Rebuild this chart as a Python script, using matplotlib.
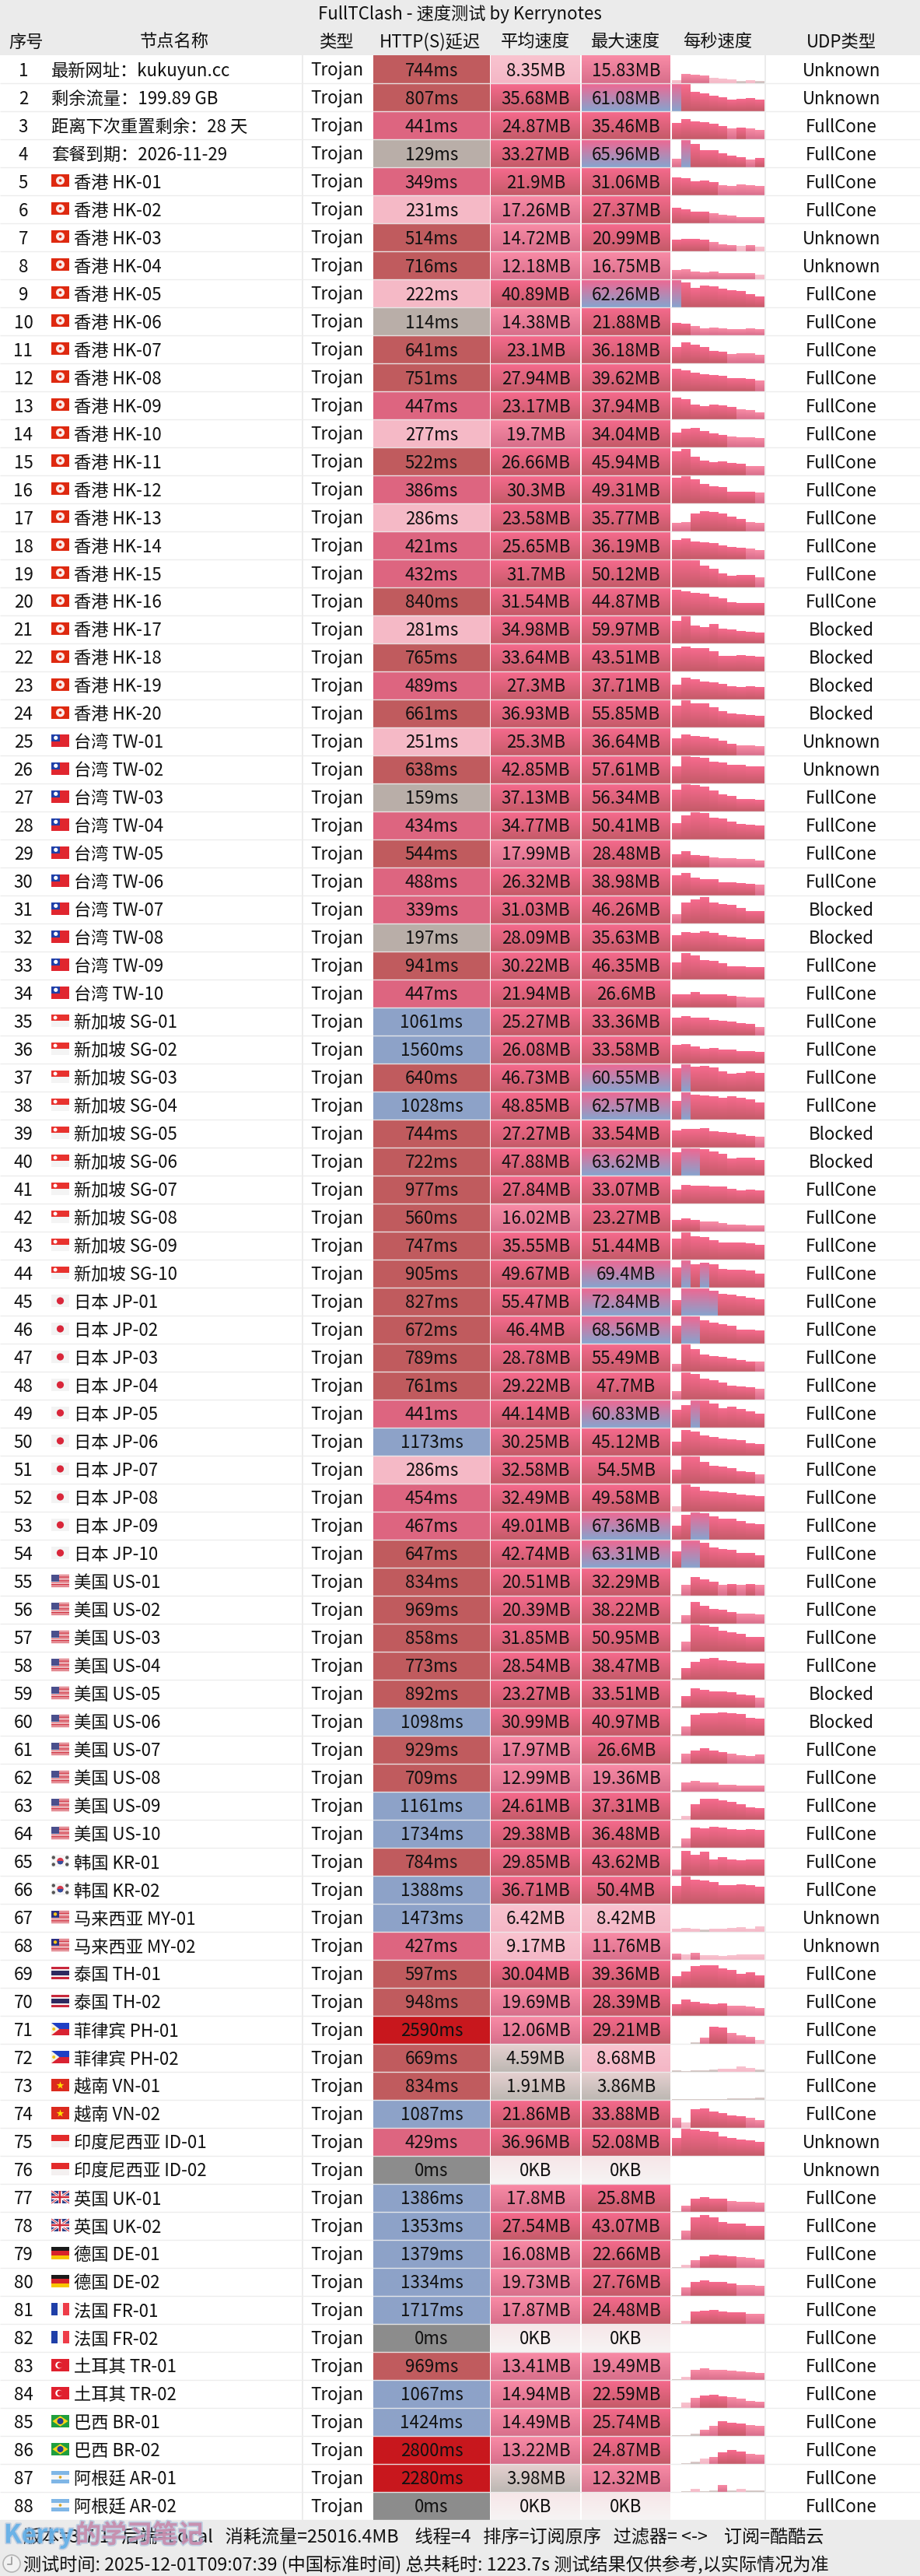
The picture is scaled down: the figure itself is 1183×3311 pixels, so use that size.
import numpy as np
import matplotlib
matplotlib.use("Agg")
import matplotlib.pyplot as plt
import matplotlib.patheffects as pe
from matplotlib.colors import to_rgb
from matplotlib.patches import Rectangle, Circle, Polygon

plt.rcParams["font.family"] = ["Noto Sans CJK SC", "DejaVu Sans"]

# =========================
# Data
# =========================
title = "FullTClash - 速度测试 by Kerrynotes"
headers = ["序号", "节点名称", "类型", "HTTP(S)延迟", "平均速度", "最大速度", "每秒速度", "UDP类型"]
footer_1 = "版本=3.7.1   后端=Local   消耗流量=25016.4MB    线程=4   排序=订阅原序   过滤器= <->    订阅=酷酷云"
footer_2 = "测试时间: 2025-12-01T09:07:39 (中国标准时间) 总共耗时: 1223.7s 测试结果仅供参考,以实际情况为准"

node_names = [
    "最新网址：kukuyun.cc", "剩余流量：199.89 GB", "距离下次重置剩余：28 天", "套餐到期：2026-11-29",
    "香港 HK-01", "香港 HK-02", "香港 HK-03", "香港 HK-04", "香港 HK-05", "香港 HK-06", "香港 HK-07",
    "香港 HK-08", "香港 HK-09", "香港 HK-10", "香港 HK-11", "香港 HK-12", "香港 HK-13", "香港 HK-14",
    "香港 HK-15", "香港 HK-16", "香港 HK-17", "香港 HK-18", "香港 HK-19", "香港 HK-20",
    "台湾 TW-01", "台湾 TW-02", "台湾 TW-03", "台湾 TW-04", "台湾 TW-05", "台湾 TW-06", "台湾 TW-07",
    "台湾 TW-08", "台湾 TW-09", "台湾 TW-10",
    "新加坡 SG-01", "新加坡 SG-02", "新加坡 SG-03", "新加坡 SG-04", "新加坡 SG-05", "新加坡 SG-06",
    "新加坡 SG-07", "新加坡 SG-08", "新加坡 SG-09", "新加坡 SG-10",
    "日本 JP-01", "日本 JP-02", "日本 JP-03", "日本 JP-04", "日本 JP-05", "日本 JP-06", "日本 JP-07",
    "日本 JP-08", "日本 JP-09", "日本 JP-10",
    "美国 US-01", "美国 US-02", "美国 US-03", "美国 US-04", "美国 US-05", "美国 US-06", "美国 US-07",
    "美国 US-08", "美国 US-09", "美国 US-10",
    "韩国 KR-01", "韩国 KR-02", "马来西亚 MY-01", "马来西亚 MY-02", "泰国 TH-01", "泰国 TH-02",
    "菲律宾 PH-01", "菲律宾 PH-02", "越南 VN-01", "越南 VN-02", "印度尼西亚 ID-01", "印度尼西亚 ID-02",
    "英国 UK-01", "英国 UK-02", "德国 DE-01", "德国 DE-02", "法国 FR-01", "法国 FR-02",
    "土耳其 TR-01", "土耳其 TR-02", "巴西 BR-01", "巴西 BR-02", "阿根廷 AR-01", "阿根廷 AR-02",
]

http_delay = [
    744, 807, 441, 129, 349, 231, 514, 716, 222, 114, 641, 751, 447, 277, 522, 386, 286, 421, 432, 840, 281, 765,
    489, 661, 251, 638, 159, 434, 544, 488, 339, 197, 941, 447, 1061, 1560, 640, 1028, 744, 722, 977, 560, 747, 905,
    827, 672, 789, 761, 441, 1173, 286, 454, 467, 647, 834, 969, 858, 773, 892, 1098, 929, 709, 1161, 1734, 784, 1388,
    1473, 427, 597, 948, 2590, 669, 834, 1087, 429, 0, 1386, 1353, 1379, 1334, 1717, 0, 969, 1067, 1424, 2800, 2280, 0,
]

avg_speed = [
    8.35, 35.68, 24.87, 33.27, 21.9, 17.26, 14.72, 12.18, 40.89, 14.38, 23.1, 27.94, 23.17, 19.7, 26.66, 30.3, 23.58,
    25.65, 31.7, 31.54, 34.98, 33.64, 27.3, 36.93, 25.3, 42.85, 37.13, 34.77, 17.99, 26.32, 31.03, 28.09, 30.22, 21.94,
    25.27, 26.08, 46.73, 48.85, 27.27, 47.88, 27.84, 16.02, 35.55, 49.67, 55.47, 46.4, 28.78, 29.22, 44.14, 30.25,
    32.58, 32.49, 49.01, 42.74, 20.51, 20.39, 31.85, 28.54, 23.27, 30.99, 17.97, 12.99, 24.61, 29.38, 29.85, 36.71,
    6.42, 9.17, 30.04, 19.69, 12.06, 4.59, 1.91, 21.86, 36.96, 0, 17.8, 27.54, 16.08, 19.73, 17.87, 0, 13.41, 14.94,
    14.49, 13.22, 3.98, 0,
]

max_speed = [
    15.83, 61.08, 35.46, 65.96, 31.06, 27.37, 20.99, 16.75, 62.26, 21.88, 36.18, 39.62, 37.94, 34.04, 45.94, 49.31,
    35.77, 36.19, 50.12, 44.87, 59.97, 43.51, 37.71, 55.85, 36.64, 57.61, 56.34, 50.41, 28.48, 38.98, 46.26, 35.63,
    46.35, 26.6, 33.36, 33.58, 60.55, 62.57, 33.54, 63.62, 33.07, 23.27, 51.44, 69.4, 72.84, 68.56, 55.49, 47.7, 60.83,
    45.12, 54.5, 49.58, 67.36, 63.31, 32.29, 38.22, 50.95, 38.47, 33.51, 40.97, 26.6, 19.36, 37.31, 36.48, 43.62, 50.4,
    8.42, 11.76, 39.36, 28.39, 29.21, 8.68, 3.86, 33.88, 52.08, 0, 25.8, 43.07, 22.66, 27.76, 24.48, 0, 19.49, 22.59,
    25.74, 24.87, 12.32, 0,
]

udp_type = (
    ["Unknown"] * 2 + ["FullCone"] * 4 + ["Unknown"] * 2 + ["FullCone"] * 12 + ["Blocked"] * 4 + ["Unknown"] * 2
    + ["FullCone"] * 4 + ["Blocked"] * 2 + ["FullCone"] * 6 + ["Blocked"] * 2 + ["FullCone"] * 18 + ["Blocked"] * 2
    + ["FullCone"] * 6 + ["Unknown"] * 2 + ["FullCone"] * 6 + ["Unknown"] * 2 + ["FullCone"] * 12
)

# per second speed in MB, ten samples per node
per_second = [
    [5.5, 15.83, 14.5, 13.5, 9.5, 8, 6, 4, 5.5, 4],
    [61.08, 57.7, 41.9, 37.9, 33.9, 30.5, 24.9, 27, 28, 24.3],
    [28.7, 35.46, 31.5, 30, 27, 22.7, 18.5, 20.5, 18.5, 15.7],
    [19, 65.96, 54.4, 40, 39, 32, 26, 22.6, 17, 20.2],
    [31.06, 29.6, 24, 26, 23, 17, 16, 18.5, 17, 15.5],
    [27.37, 24, 20.3, 20.3, 17.6, 15, 13, 10.6, 11, 10.6],
    [20.2, 20.99, 20.9, 20.1, 15.7, 12, 10.2, 8.8, 10, 7.4],
    [16, 16.75, 13, 12, 13, 11, 10.2, 10, 10, 7.9],
    [62.26, 54, 42, 47.8, 45.5, 40, 38, 35, 28, 23],
    [21.88, 20.1, 15.3, 11.6, 13, 11.6, 11, 10.2, 11.6, 10.2],
    [27.8, 36.18, 32.4, 28.7, 21.3, 20, 16.2, 17, 17.6, 14.4],
    [39.62, 36.6, 32, 29.6, 28, 26.9, 23, 22.7, 21.3, 18.5],
    [37.94, 36, 25.5, 23, 26, 24.5, 22, 18, 15.3, 11.6],
    [25.5, 32.4, 34.04, 29, 25, 21.8, 19, 18, 17.6, 15.7],
    [42, 45.94, 33, 26, 23, 24.5, 22, 20.4, 16, 15.3],
    [45.8, 49.31, 43, 34, 29.6, 27.8, 20, 20.4, 20.1, 19],
    [14.8, 15.7, 31.5, 35.77, 34.3, 31, 26, 21.8, 16.2, 14.8],
    [33.8, 36.19, 30.6, 29.6, 27.8, 24.5, 21.8, 20.4, 18.5, 16.2],
    [49, 50.12, 48, 38.5, 33, 24.6, 20, 20.9, 21.8, 18],
    [44.87, 41.7, 40, 38, 33, 30, 23.6, 21.3, 22.2, 21.3],
    [48, 59.97, 37, 33.9, 41, 31.6, 29, 25.5, 24.4, 22.8],
    [41, 43.51, 40.7, 41, 35.6, 26.9, 26.9, 29, 27, 25.5],
    [25.5, 37.71, 35.6, 31.5, 29.6, 26.9, 23, 22, 23, 21.3],
    [43.4, 55.85, 48, 48, 38.8, 31.5, 27, 25, 24, 22.7],
    [30, 36.64, 34, 32, 29.6, 26, 20.4, 18, 16.7, 15.3],
    [35, 57.61, 54, 52, 44.8, 42, 38, 38, 35, 35],
    [43.8, 56.34, 53, 50, 41, 34, 29.8, 25, 24, 22],
    [29, 43.4, 50.41, 46.7, 39, 37, 31, 27.5, 26.6, 24.7],
    [23, 28.48, 21.8, 20, 17.6, 16, 15.3, 14.8, 14, 12],
    [35, 38.98, 30.6, 28.7, 27.8, 23.6, 22.7, 22, 20, 19],
    [15.7, 37, 42.6, 46.26, 37.5, 34, 32, 26.9, 21.3, 21.3],
    [28.7, 34.7, 32.9, 35.63, 32, 27.8, 26, 24, 22, 21.3],
    [30, 46.35, 41.7, 34.7, 33.3, 27.8, 23, 23, 21.8, 21.8],
    [23, 23.6, 26.6, 23.6, 23.6, 23.6, 20.8, 19, 17.6, 16.7],
    [31.5, 33.36, 30.6, 30.6, 27.3, 25.5, 24.5, 21.8, 20, 14.4],
    [32, 33.58, 30, 25.5, 26.4, 25, 24, 21.3, 22.2, 20.4],
    [48.8, 60.55, 53, 54.4, 51.6, 43, 37.6, 40, 42.6, 39],
    [41.7, 62.57, 55, 52.7, 51.5, 48.6, 51, 48, 44.6, 38],
    [30, 32.4, 32.4, 33.54, 29, 27.3, 25.5, 23.6, 20.8, 18.5],
    [53, 63.62, 60.7, 59, 54, 49, 37.7, 40, 38.9, 34.8],
    [24.5, 33.07, 31.6, 30.6, 29.6, 29.6, 26, 23, 24, 23],
    [20.4, 23.27, 20.4, 18, 17, 14.8, 12.5, 12, 11, 10],
    [38, 51.44, 42.8, 41.4, 35.7, 31, 31, 30.5, 29.5, 27],
    [50, 69.4, 57.8, 60, 56, 45.6, 44, 43.7, 42.4, 34],
    [39.8, 72.84, 70, 70, 63.4, 56.6, 54, 50, 46.5, 41.8],
    [43.8, 68.56, 66, 55.9, 51.4, 47, 42, 34, 33.6, 31.8],
    [15.4, 55.49, 43.7, 33.4, 30.8, 29, 24.7, 21.6, 20, 18.5],
    [14.8, 47.7, 45.8, 37.5, 34.7, 30.5, 25, 23, 21.3, 19],
    [38, 47.9, 60.83, 58, 52, 41.7, 44, 40.5, 35, 29.8],
    [25, 45.12, 42, 36, 33, 30, 28, 26.4, 21.8, 20.4],
    [26, 54.5, 51.5, 42, 34, 32, 28.8, 24, 21.7, 17.7],
    [9.3, 49.58, 44.4, 37, 35.6, 33.8, 32, 30, 28, 26.4],
    [33, 59.5, 67.36, 63.6, 55, 48.7, 50, 43.7, 39, 36.8],
    [35.7, 63.31, 62, 56, 45.7, 42, 40, 32, 32, 28],
    [1.9, 19, 32.29, 27.8, 24.5, 18.5, 20.4, 19, 20.8, 19],
    [1.4, 13.9, 38.22, 31, 26, 24, 20.4, 18, 16.7, 15.7],
    [1.9, 17, 50.95, 48, 44, 38, 34, 32.5, 26, 26],
    [1.9, 20.4, 31, 36.6, 38.47, 34, 33, 30, 29, 27.8],
    [1.9, 20.4, 33.51, 31, 27.8, 27.8, 26.4, 23.6, 21.8, 17.6],
    [1.4, 15.7, 37, 39.8, 38.9, 40.97, 39.8, 38, 30.6, 29.6],
    [1.9, 17.6, 23.6, 26.6, 23.6, 20.4, 17, 14.8, 13.4, 15.7],
    [1.9, 15.3, 19.36, 15.7, 15.3, 12.5, 12, 11, 11, 11],
    [0.9, 6.9, 27.3, 37.31, 36.6, 34.7, 30.6, 27.3, 22, 20.4],
    [1.4, 16.2, 35.7, 34.7, 36.48, 35.7, 32.4, 30.6, 33.3, 30.6],
    [11, 43.62, 36.6, 41.7, 27.8, 32, 27.8, 26.9, 27.8, 27.8],
    [31.8, 50.4, 43, 41, 38, 33.6, 33.6, 34.5, 33.6, 30.8],
    [5.2, 6.5, 5.1, 3.5, 5.5, 5.5, 6.5, 7.4, 5.5, 8.42],
    [10.3, 9.3, 11.76, 7.9, 8.3, 6, 7.4, 8.8, 8.8, 8.8],
    [20, 27.8, 38.4, 39.36, 38.9, 34, 31, 24, 26.9, 22],
    [20, 28.39, 24.5, 21.8, 20.4, 22, 18, 18, 15.3, 13.4],
    [0, 0, 2.3, 10.2, 29.21, 28.2, 19.4, 14.8, 11.6, 6.5],
    [1.9, 0.9, 2.3, 2.3, 3.7, 5.5, 5.5, 8.68, 5.6, 2.8],
    [0.4, 0.5, 0.6, 0.6, 0.7, 0.8, 2, 2.2, 2.5, 3.86],
    [17.6, 9.3, 32.4, 33.88, 29, 26, 22, 20.4, 17.6, 13.4],
    [33, 52.08, 48.7, 45, 44.8, 36, 32, 29.4, 28.4, 25],
    [0, 0, 0, 0, 0, 0, 0, 0, 0, 0],
    [0.9, 11, 23, 25.8, 23.6, 22.7, 19.4, 17.6, 16.7, 15.7],
    [0.9, 15.3, 38.9, 43.07, 40, 31, 29, 28, 24, 24],
    [0.9, 5.5, 13.4, 20, 22.66, 22.2, 20.8, 19, 17.6, 14.8],
    [0.9, 13.9, 25, 27.76, 25, 24, 21.8, 19.4, 19, 18],
    [0.4, 5.5, 22, 23, 24.48, 21.3, 20.8, 20, 17.6, 17.6],
    [0, 0, 0, 0, 0, 0, 0, 0, 0, 0],
    [0.9, 5.5, 16.7, 19.49, 18, 16.7, 15.3, 14.8, 13.4, 11.6],
    [0.4, 9.3, 17.6, 21.8, 22.59, 20, 19, 16.2, 12.5, 10],
    [0.2, 0.9, 2.8, 10, 18, 25.74, 23.6, 21.8, 19, 16.7],
    [0, 0.9, 2.8, 9.3, 11.6, 20.4, 24.87, 22.2, 17.6, 15.7],
    [0, 0.9, 5.5, 0.8, 1.9, 12.32, 1.9, 5.5, 1.4, 1.4],
    [0, 0, 0, 0, 0, 0, 0, 0, 0, 0],
]

# =========================
# Layout (pixels)
# =========================
W, H = 1183, 3312
ROW0, ROWH = 72, 36
FOOT_TOP = 3240
FS = 22.3 * 0.72
GREY = "#ebebeb"
LINE = "#ececec"
N_SEC = 10
SPARK_FULL = 50.0

header_x = [34, 224, 433, 553, 688, 804, 923, 1082]
SEQ_X, NAME_X, FLAG_X, TYPE_X, UDP_X = 30, 66, 66, 433, 1082
HTTP_COL = (480, 630)
AVG_COL = (631.5, 746.5)
MAX_COL = (748, 862)
SPARK_COL = (864, 983)


# =========================
# Helpers
# =========================
def http_color(ms):
    if ms == 0:
        return "#8c8c8c"
    if ms < 200:
        return "#b9aea8"
    if ms < 300:
        return "#f5b9c6"
    if ms < 500:
        return "#dd6580"
    if ms < 1000:
        return "#c05b5e"
    if ms < 2000:
        return "#8da2c8"
    return "#c8171d"


def speed_colors(v):
    if v <= 0:
        return "#f7e6e8", "#f6f4f4"
    if v < 5:
        return "#e6d0d0", "#bdb8b3"
    if v < 10:
        return "#f9c3cf", "#f4b7c6"
    if v < 20:
        return "#f98ba6", "#d86f8b"
    if v < 60:
        return "#f66a8d", "#c55b69"
    return "#ee6893", "#88a3cd"


def gradient(ax, x0, x1, y0, y1, top, bottom):
    img = np.linspace(to_rgb(top), to_rgb(bottom), 24)[:, None, :]
    ax.imshow(img, extent=(x0, x1, y1, y0), aspect="auto", interpolation="bilinear", zorder=2)


def label(ax, x, y, s, ha="center", size=FS, **kw):
    ax.text(x, y, s, ha=ha, va="center", fontsize=size, color="#111111", zorder=5, **kw)


def speed_label(v):
    return f"{v:g}MB" if v > 0 else "0KB"


def draw_flag(ax, code, x, y, w=23, h=16):
    def rect(rx, ry, rw, rh, c):
        ax.add_patch(Rectangle((x + rx * w, y + ry * h), rw * w, rh * h, fc=c, ec="none", zorder=3))

    def dot(cx, cy, r, c):
        ax.add_patch(Circle((x + cx * w, y + cy * h), r, fc=c, ec="none", zorder=4))

    def poly(pts, c):
        ax.add_patch(Polygon([(x + a * w, y + b * h) for a, b in pts], fc=c, ec="none", zorder=4))

    def hstripes(cols):
        for k, c in enumerate(cols):
            rect(0, k / len(cols), 1, 1 / len(cols), c)

    if code == "HK":
        rect(0, 0, 1, 1, "#de2910")
        dot(0.5, 0.5, 5.5, "#fbe9e6")
        dot(0.5, 0.5, 1.8, "#de2910")
    elif code == "TW":
        rect(0, 0, 1, 1, "#e0262f")
        rect(0, 0, 0.5, 0.55, "#1f3fa8")
        dot(0.25, 0.27, 2.6, "white")
    elif code == "SG":
        hstripes(["#e8322e", "#f4f4f4"])
        dot(0.22, 0.25, 2.4, "white")
    elif code == "JP":
        rect(0, 0, 1, 1, "#f3f3f3")
        dot(0.5, 0.5, 4.6, "#d9263a")
    elif code in ("US", "MY"):
        hstripes(["#d5404e", "#f6f0f0"] * 6 + ["#d5404e"])
        rect(0, 0, 0.45, 0.54, "#4a4f8c" if code == "US" else "#2b2f7f")
        if code == "MY":
            dot(0.22, 0.27, 2.2, "#f5c518")
    elif code == "KR":
        rect(0, 0, 1, 1, "#f5f5f5")
        dot(0.5, 0.5, 4.2, "#d53a4c")
        poly([(0.33, 0.5), (0.67, 0.5), (0.62, 0.72), (0.5, 0.78), (0.38, 0.72)], "#2f4f9f")
        for cx, cy in [(0.12, 0.22), (0.88, 0.22), (0.12, 0.78), (0.88, 0.78)]:
            dot(cx, cy, 2.2, "#555555")
    elif code == "TH":
        for y0, hh, c in [(0, 1 / 6, "#c8283c"), (1 / 6, 1 / 6, "#f5f0f0"), (1 / 3, 1 / 3, "#2d2a5f"),
                          (2 / 3, 1 / 6, "#f5f0f0"), (5 / 6, 1 / 6, "#c8283c")]:
            rect(0, y0, 1, hh, c)
    elif code == "PH":
        hstripes(["#1f3fc4", "#d92232"])
        poly([(0, 0), (0.45, 0.5), (0, 1)], "#f7f3e6")
        dot(0.14, 0.5, 2, "#f0c419")
    elif code == "VN":
        rect(0, 0, 1, 1, "#dc2a1e")
        ax.scatter([x + 0.5 * w], [y + 0.5 * h], marker="*", s=55, c="#ffe000", linewidths=0, zorder=4)
    elif code == "ID":
        hstripes(["#e32b2b", "#f4f0f0"])
    elif code == "UK":
        rect(0, 0, 1, 1, "#2b3f87")
        for a, b, c, lw in [((0, 0), (1, 1), "white", 3), ((0, 1), (1, 0), "white", 3),
                            ((0, 0), (1, 1), "#cf2b3a", 1), ((0, 1), (1, 0), "#cf2b3a", 1),
                            ((0.5, 0), (0.5, 1), "white", 5), ((0, 0.5), (1, 0.5), "white", 5),
                            ((0.5, 0), (0.5, 1), "#cf2b3a", 2.5), ((0, 0.5), (1, 0.5), "#cf2b3a", 2.5)]:
            ax.plot([x + a[0] * w, x + b[0] * w], [y + a[1] * h, y + b[1] * h], color=c, lw=lw * 0.72,
                    solid_capstyle="butt", zorder=4)
    elif code == "DE":
        hstripes(["#1a1a1a", "#d8232a", "#f7c600"])
    elif code == "FR":
        rect(0, 0, 1 / 3, 1, "#1f3fa8")
        rect(1 / 3, 0, 1 / 3, 1, "#f6f6f6")
        rect(2 / 3, 0, 1 / 3, 1, "#ee3c48")
    elif code == "TR":
        rect(0, 0, 1, 1, "#e0202e")
        dot(0.42, 0.5, 4.4, "white")
        dot(0.48, 0.5, 3.5, "#e0202e")
    elif code == "BR":
        rect(0, 0, 1, 1, "#1f9e3f")
        poly([(0.5, 0.08), (0.94, 0.5), (0.5, 0.92), (0.06, 0.5)], "#f7d417")
        ax.add_patch(Circle((x + 0.5 * w, y + 0.5 * h), 4, fc="#23408f", ec="none", zorder=5))
    elif code == "AR":
        hstripes(["#7fb6e6", "#f6f6f6", "#7fb6e6"])
        dot(0.5, 0.5, 1.8, "#d9a520")


# =========================
# Figure
# =========================
fig = plt.figure(figsize=(W / 100, H / 100), dpi=100, facecolor="white")
ax = fig.add_axes([0, 0, 1, 1])
ax.set_autoscale_on(False)
ax.set_xlim(0, W)
ax.set_ylim(H, 0)
ax.axis("off")

ax.add_patch(Rectangle((0, 0), W, ROW0, fc=GREY, ec="none", zorder=1))
ax.add_patch(Rectangle((0, FOOT_TOP), W, H - FOOT_TOP, fc=GREY, ec="none", zorder=1))

label(ax, 591, 18, title)
for hx, h in zip(header_x, headers):
    label(ax, hx, 54, h)

ax.vlines([389, 984], ROW0, FOOT_TOP, color=LINE, lw=1.4, zorder=1.5)

for i, name in enumerate(node_names):
    top = ROW0 + i * ROWH
    bot = top + ROWH
    mid = top + ROWH / 2 + 1

    label(ax, SEQ_X, mid, str(i + 1))
    code = name.split()[-1][:2]
    if " " in name and code.isascii() and code.isalpha() and code != "GB":
        draw_flag(ax, code, FLAG_X, top + 9)
        label(ax, 95, mid, name, ha="left")
    else:
        label(ax, NAME_X, mid, name, ha="left")
    label(ax, TYPE_X, mid, "Trojan")
    label(ax, UDP_X, mid, udp_type[i])

    # delay cell
    ax.add_patch(Rectangle((HTTP_COL[0], top), HTTP_COL[1] - HTTP_COL[0], ROWH, fc=http_color(http_delay[i]),
                           ec="none", zorder=2))
    label(ax, sum(HTTP_COL) / 2, mid, f"{http_delay[i]}ms")

    # speed cells
    for col, v in ((AVG_COL, avg_speed[i]), (MAX_COL, max_speed[i])):
        c_top, c_bot = speed_colors(v)
        gradient(ax, col[0], col[1], top, bot, c_top, c_bot)
        label(ax, sum(col) / 2, mid, speed_label(v))

    # per second bars, full height is the row max or 50MB
    scale = max(SPARK_FULL, max_speed[i])
    bar_w = (SPARK_COL[1] - SPARK_COL[0]) / N_SEC
    for k, v in enumerate(per_second[i]):
        if v <= 0:
            continue
        c_top, c_bot = speed_colors(v)
        bar_h = ROWH * v / scale
        x0 = SPARK_COL[0] + k * bar_w
        gradient(ax, x0, x0 + bar_w, bot - bar_h, bot, c_top, c_bot)

    ax.hlines(bot, 0, W, color=LINE, lw=1.0, zorder=3, alpha=0.9)

# footer
label(ax, 30, 3262, footer_1, ha="left", size=FS * 1.04)
label(ax, 30, 3297, footer_2, ha="left", size=FS * 1.04)
ax.add_patch(Circle((15, 3296), 11, fc="#f2f2f2", ec="#b5b5b5", lw=1.2, zorder=3))
ax.plot([15, 15, 10], [3288, 3297, 3297], color="#9a9a9a", lw=1.2, zorder=4)

# watermark over the footer
mark = [(5, "Kerry", "#63b0e8"), (97, "的学习笔记", "#c98bab")]
for mx, s, c in mark:
    ax.text(mx, 3260, s, ha="left", va="center", fontsize=33 * 0.72, fontweight="bold", color=c, alpha=0.85, zorder=6,
            path_effects=[pe.withStroke(linewidth=2.5, foreground="#9db7d8", alpha=0.55)])

fig.savefig("out.png", dpi=100)
